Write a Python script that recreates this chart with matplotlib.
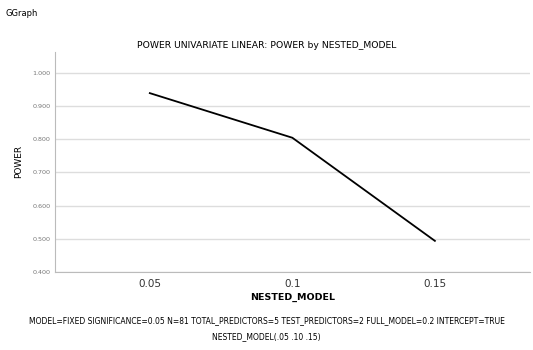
import matplotlib
matplotlib.use("Agg")
import matplotlib.pyplot as plt

# 数据
nested_model = [0.05, 0.10, 0.15]
power = [0.940, 0.805, 0.493]
x_ticks = [0.05, 0.10, 0.15]
x_tick_labels = ["0.05", "0.1", "0.15"]
y_ticks = [0.4, 0.5, 0.6, 0.7, 0.8, 0.9, 1.0]

title = "POWER UNIVARIATE LINEAR: POWER by NESTED_MODEL"
footnote1 = ("MODEL=FIXED SIGNIFICANCE=0.05 N=81 TOTAL_PREDICTORS=5 "
             "TEST_PREDICTORS=2 FULL_MODEL=0.2 INTERCEPT=TRUE")
footnote2 = "NESTED_MODEL(.05 .10 .15)"

fig = plt.figure(figsize=(5.33, 3.5), dpi=100)
ax = fig.add_axes([0.103, 0.224, 0.891, 0.627])

ax.plot(nested_model, power, color="black", linewidth=1.3)

ax.set_xlim(0.0167, 0.1833)
ax.set_ylim(0.4, 1.064)
ax.set_xticks(x_ticks)
ax.set_xticklabels(x_tick_labels, fontsize=7.5, color="#333333")
ax.set_yticks(y_ticks)
ax.set_yticklabels([f"{v:.3f}" for v in y_ticks], fontsize=4.6, color="#777777")
ax.tick_params(length=0, pad=3)
ax.tick_params(axis="x", pad=5)

ax.grid(axis="y", color="#dddddd", linewidth=1.0)
ax.set_axisbelow(True)
for side in ["top", "right"]:
    ax.spines[side].set_visible(False)
for side in ["left", "bottom"]:
    ax.spines[side].set_color("#bbbbbb")
    ax.spines[side].set_linewidth(0.8)

ax.set_ylabel("POWER", fontsize=6.5, labelpad=7)
ax.set_xlabel("NESTED_MODEL", fontsize=6.8, fontweight="semibold", labelpad=3)

fig.text(0.5, 0.871, title, ha="center", va="center", fontsize=6.7)
fig.text(0.01, 0.96, "GGraph", ha="left", va="center", fontsize=6)
fig.text(0.5, 0.085, footnote1, ha="center", va="center", fontsize=5.5)
fig.text(0.5, 0.037, footnote2, ha="center", va="center", fontsize=5.5)

plt.savefig("out.png", dpi=100)
plt.close(fig)
